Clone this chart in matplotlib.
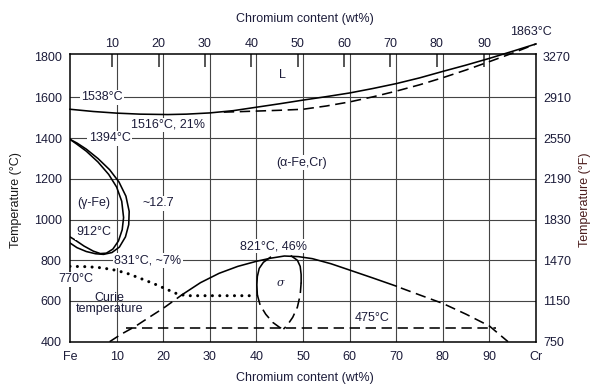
import matplotlib
matplotlib.use('Agg')
import matplotlib.pyplot as plt

plt.rcParams['font.family'] = ['Liberation Sans', 'DejaVu Sans']
plt.rcParams['font.size'] = 9

TXT = '#1c1c3a'

# liquidus (solid) and solidus (dashed), wt% Cr vs deg C
liq_x = [0, 5, 10, 15, 21, 25, 30, 35, 40, 45, 50, 55, 60, 65, 70, 75, 80, 85, 90, 95, 100]
liq_T = [1542, 1531, 1523, 1518, 1516, 1518, 1524, 1535, 1552, 1569, 1587, 1604, 1622, 1644, 1668, 1696, 1728, 1759, 1792, 1827, 1863]
sol_x = [33, 36, 40, 45, 50, 55, 60, 65, 70, 75, 80, 85, 90, 95, 100]
sol_T = [1528, 1530, 1533, 1537, 1542, 1558, 1578, 1603, 1631, 1662, 1697, 1735, 1776, 1818, 1863]

# gamma loop (two boundaries)
gam_out_x = [0, 1.5, 3.5, 6, 8.5, 10.5, 12, 12.7, 12.6, 11.9, 10.6, 9, 7.2, 5.5, 3.5, 1.5, 0]
gam_out_T = [1394, 1376, 1346, 1300, 1245, 1185, 1115, 1040, 975, 915, 865, 838, 829, 832, 843, 862, 885]
gam_in_x = [0, 1.5, 3.5, 6, 8.3, 10, 11.1, 11.5, 11.2, 10.4, 9.2, 7.8, 6.5, 5, 3, 1.2, 0]
gam_in_T = [1394, 1370, 1336, 1283, 1222, 1160, 1090, 1010, 950, 895, 855, 835, 833, 845, 870, 898, 915]

# alpha / alpha+sigma dome
dome_l_x = [8.5, 11, 14, 17, 20, 22.5, 24]
dome_l_T = [400, 437, 475, 520, 564, 605, 630]
dome_x = [24, 28, 32, 36, 40, 43, 46, 49, 52, 56, 60, 65, 70]
dome_T = [630, 690, 736, 770, 795, 810, 821, 818, 808, 783, 752, 713, 673]
dome_r_x = [71, 75, 80, 85, 90, 94]
dome_r_T = [664, 630, 588, 535, 477, 400]

# sigma phase field
sig_ls_x = [43, 41.5, 40.6, 40.2, 40.1, 40.2]
sig_ls_T = [815, 790, 760, 720, 680, 630]
sig_ld_x = [40.2, 40.8, 42, 43.5, 45, 45.8]
sig_ld_T = [630, 580, 535, 495, 470, 462]
sig_rs_x = [47.5, 48.8, 49.4, 49.6, 49.6]
sig_rs_T = [821, 800, 770, 730, 690]
sig_rd_x = [49.6, 49.4, 48.8, 47.8, 46.6, 45.8]
sig_rd_T = [690, 630, 570, 520, 480, 462]

# 475 C embrittlement line
h475_x = [12, 91.5]
h475_T = [465, 465]

# Curie temperature
curie_x = [0, 3, 6, 9, 12, 15, 18, 21, 23, 25, 30, 35, 40]
curie_T = [770, 769, 765, 755, 738, 712, 685, 655, 635, 626, 626, 626, 626]

c_ticks = [400, 600, 800, 1000, 1200, 1400, 1600, 1800]
f_labels = ['750', '1150', '1470', '1830', '2190', '2550', '2910', '3270']
x_ticks = [0, 10, 20, 30, 40, 50, 60, 70, 80, 90, 100]
x_labels = ['Fe', '10', '20', '30', '40', '50', '60', '70', '80', '90', 'Cr']
top_pos = [9, 19, 28.9, 38.9, 48.9, 58.9, 68.7, 78.7, 88.9]
top_labels = ['10', '20', '30', '40', '50', '60', '70', '80', '90']

W, H = 592, 385
fig = plt.figure(figsize=(W / 100, H / 100), dpi=100)
rect = [70 / W, 1 - 341.7 / H, 466 / W, (341.7 - 54.3) / H]

# twins first, so the main axes (with its labels) is drawn on top
axr = fig.add_axes(rect, frameon=False)
axr.set_ylim(400, 1812)
axr.set_yticks(c_ticks)
axr.set_yticklabels(f_labels)
axr.yaxis.tick_right()
axr.set_xticks([])
axr.tick_params(axis='y', length=0, pad=5, labelcolor=TXT, labelsize=9)

axt = fig.add_axes(rect, frameon=False)
axt.set_xlim(0, 100)
axt.set_xticks(top_pos)
axt.set_xticklabels(top_labels)
axt.xaxis.tick_top()
axt.set_yticks([])
axt.tick_params(axis='x', direction='in', length=9, width=1.4, color='#555555',
                pad=3, labelcolor=TXT, labelsize=9)

ax = fig.add_axes(rect)
ax.patch.set_alpha(0)
ax.set_xlim(0, 100)
ax.set_ylim(400, 1812)

for gx in range(10, 100, 10):
    ax.axvline(gx, color='#444444', lw=0.8, zorder=1)
for gy in range(600, 1800, 200):
    ax.axhline(gy, color='#444444', lw=0.8, zorder=1)

solid = dict(color='black', lw=1.15, zorder=2)
dashed = dict(color='black', lw=1.15, linestyle=(0, (6.5, 3.5)), zorder=2)

ax.plot(liq_x, liq_T, clip_on=False, **solid)
ax.plot(sol_x, sol_T, clip_on=False, **dashed)
ax.plot(gam_out_x, gam_out_T, **solid)
ax.plot(gam_in_x, gam_in_T, **solid)
ax.plot(dome_l_x, dome_l_T, **dashed)
ax.plot(dome_x, dome_T, **solid)
ax.plot(dome_r_x, dome_r_T, **dashed)
ax.plot(sig_ls_x, sig_ls_T, **solid)
ax.plot(sig_ld_x, sig_ld_T, **dashed)
ax.plot(sig_rs_x, sig_rs_T, **solid)
ax.plot(sig_rd_x, sig_rd_T, **dashed)
ax.plot(h475_x, h475_T, **dashed)
ax.plot(curie_x, curie_T, color='black', lw=2.2, linestyle=(0, (0.01, 2.4)),
        dash_capstyle='round', zorder=2)

box = dict(facecolor='white', edgecolor='none', pad=1.0)
labels = [
    ('L', 45.6, 1710, None),
    ('1538°C', 6.9, 1600, box),
    ('1516°C, 21%', 21, 1465, box),
    ('1394°C', 8.5, 1400, box),
    ('(α-Fe,Cr)', 49.7, 1280, box),
    ('(γ-Fe)', 5.2, 1080, box),
    ('~12.7', 18.9, 1080, box),
    ('912°C', 5.1, 937, box),
    ('831°C, ~7%', 16.7, 800, box),
    ('770°C', 1.2, 706, box),
    ('Curie', 8.5, 617, None),
    ('temperature', 8.5, 560, None),
    ('821°C, 46%', 43.6, 870, box),
    ('475°C', 64.9, 517, None),
    ('1863°C', 98.9, 1922, None),
]
for s, x, y, b in labels:
    ax.text(x, y, s, ha='center', va='center', color=TXT, fontsize=9,
            bbox=b, zorder=4, clip_on=False)
ax.text(45.2, 687, 'σ', ha='center', va='center', color=TXT, fontsize=8,
        style='italic', family='DejaVu Serif', zorder=4)

ax.set_xticks(x_ticks)
ax.set_xticklabels(x_labels)
ax.set_yticks(c_ticks)
ax.tick_params(axis='both', length=0, labelcolor=TXT, labelsize=9)
ax.tick_params(axis='x', pad=7)
ax.tick_params(axis='y', pad=6)
for sp in ax.spines.values():
    sp.set_linewidth(1.1)
    sp.set_zorder(2.5)

fig.text(305 / W, 1 - 19 / H, 'Chromium content (wt%)', ha='center', va='center',
         color=TXT, fontsize=9)
fig.text(305 / W, 1 - 378 / H, 'Chromium content (wt%)', ha='center', va='center',
         color=TXT, fontsize=9)
fig.text(16 / W, 1 - 200 / H, 'Temperature (°C)', rotation=90, ha='center',
         va='center', color='#1a1a1a', fontsize=9)
fig.text(585 / W, 1 - 200 / H, 'Temperature (°F)', rotation=90, ha='center',
         va='center', color='#4a1c1c', fontsize=9)

fig.savefig('out.png', dpi=100)
